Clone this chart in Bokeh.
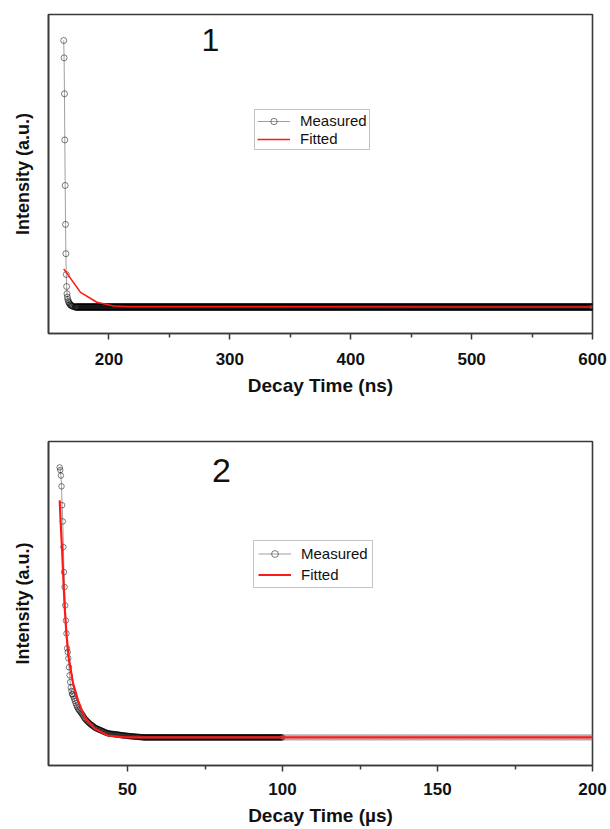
import numpy as np
from bokeh.plotting import figure
from bokeh.layouts import column
from bokeh.models import Range1d, FixedTicker, Label, Legend, LegendItem
from bokeh.embed import file_html
from bokeh.resources import INLINE

FONT = "Liberation Sans"

# ---------------- Panel 1 : decay time in ns ----------------
p1_dec_t = [162.6, 162.9, 163.2, 163.5, 163.8, 164.1, 164.4, 164.7, 165.0, 165.3,
            165.6, 166.0, 166.5, 167.0, 167.5, 168.0, 168.5, 169.0, 169.5, 170.0,
            171.0, 172.0]
p1_dec_y = [1.000, 0.935, 0.800, 0.627, 0.456, 0.310, 0.200, 0.122, 0.077, 0.050,
            0.037, 0.028, 0.021, 0.016, 0.012, 0.009, 0.007, 0.005, 0.004, 0.003,
            0.001, 0.000]
p1_tail_start, p1_tail_end, p1_tail_step = 172.5, 600.0, 0.5   # instrument time channels
p1_base = 0.0
p1_fit_t = [162.6, 176.5, 190.0, 204.0, 215.0, 600.0]
p1_fit_y = [0.143, 0.055, 0.018, 0.004, 0.001, 0.000]
p1_xticks = [200, 300, 400, 500, 600]
p1_xminor = [250, 350, 450, 550]

# ---------------- Panel 2 : decay time in µs ----------------
p2_dec_t = [28.1, 28.3, 28.5, 28.7, 28.9, 29.1, 29.3, 29.5, 29.7, 29.9,
            30.1, 30.3, 30.5, 30.7, 30.9, 31.1, 31.3, 31.5, 31.7, 31.9, 32.1]
p2_dec_y = [1.000, 0.990, 0.970, 0.930, 0.860, 0.800, 0.705, 0.612, 0.557, 0.489,
            0.433, 0.385, 0.330, 0.316, 0.293, 0.260, 0.230, 0.205, 0.185, 0.172, 0.160]
# slow part, channels 32.25 ... 55.0 µs every 0.25 µs
p2_slow_start, p2_slow_end, p2_slow_step = 32.25, 55.0, 0.25
p2_slow_y = [0.160, 0.152, 0.143, 0.135, 0.127, 0.119, 0.113, 0.107, 0.103, 0.099,
             0.095, 0.091, 0.087, 0.083, 0.078, 0.073, 0.069, 0.066, 0.063, 0.060,
             0.057, 0.054, 0.052, 0.049, 0.047, 0.045, 0.043, 0.041, 0.038, 0.036,
             0.035, 0.033, 0.032, 0.031, 0.029, 0.028, 0.027, 0.026, 0.024, 0.023,
             0.022, 0.021, 0.019, 0.018, 0.017, 0.016, 0.015, 0.015, 0.014, 0.014,
             0.013, 0.013, 0.013, 0.012, 0.012, 0.012, 0.011, 0.011, 0.011, 0.010,
             0.010, 0.009, 0.009, 0.008, 0.008, 0.008, 0.007, 0.007, 0.007, 0.006,
             0.006, 0.006, 0.005, 0.005, 0.005, 0.004, 0.004, 0.004, 0.004, 0.003,
             0.003, 0.003, 0.003, 0.002, 0.002, 0.002, 0.002, 0.001, 0.001, 0.001,
             0.001, 0.000]
p2_tail_start, p2_tail_end, p2_tail_step = 55.2, 100.0, 0.2
p2_far_start, p2_far_end, p2_far_step = 100.4, 200.0, 0.4
p2_base = 0.0
p2_fit_t = [28.12, 28.44, 28.89, 29.31, 29.72, 30.27, 31.01, 32.42, 34.02, 36.13,
            39.34, 43.63, 48.96, 200.0]
p2_fit_y = [0.878, 0.793, 0.693, 0.581, 0.482, 0.385, 0.297, 0.200, 0.137, 0.075,
            0.033, 0.007, 0.000, 0.000]
p2_xticks = [50, 100, 150, 200]
p2_xminor = [75, 125, 175]


def channels(start, end, step):
    return np.arange(start, end + step / 2, step)


def style_axes(p, xticks, xminor, xlabel, tick_standoff, label_standoff):
    p.outline_line_color = "#3a3a3a"
    p.outline_line_width = 1.6
    p.xgrid.visible = False
    p.ygrid.visible = False
    xa = p.xaxis[0]
    xa.ticker = FixedTicker(ticks=xticks, minor_ticks=xminor)
    xa.axis_line_color = "#3a3a3a"
    xa.axis_line_width = 1.6
    xa.major_tick_line_color = "#3a3a3a"
    xa.major_tick_line_width = 1.5
    xa.minor_tick_line_color = "#3a3a3a"
    xa.minor_tick_line_width = 1.5
    xa.major_tick_in = 0
    xa.major_tick_out = 6
    xa.minor_tick_in = 0
    xa.minor_tick_out = 4
    xa.major_label_text_font = FONT
    xa.major_label_text_font_style = "bold"
    xa.major_label_text_font_size = "17px"
    xa.major_label_text_color = "#111111"
    xa.major_label_standoff = tick_standoff
    xa.axis_label = xlabel
    xa.axis_label_text_font = FONT
    xa.axis_label_text_font_style = "bold"
    xa.axis_label_text_font_size = "19px"
    xa.axis_label_text_color = "#111111"
    xa.axis_label_standoff = label_standoff
    ya = p.yaxis[0]
    ya.ticker = FixedTicker(ticks=[])
    ya.axis_line_color = "#3a3a3a"
    ya.axis_line_width = 1.6
    ya.major_tick_out = 0
    ya.major_tick_in = 0
    ya.minor_tick_out = 0
    ya.minor_tick_in = 0
    ya.axis_label = "Intensity (a.u.)"
    ya.axis_label_text_font = FONT
    ya.axis_label_text_font_style = "bold"
    ya.axis_label_text_font_size = "18px"
    ya.axis_label_text_color = "#111111"
    ya.axis_label_standoff = 16


def make_legend(p, meas_renderers, fit_renderer, loc, font_size, padding, spacing, item_h):
    leg = Legend(items=[LegendItem(label="Measured", renderers=meas_renderers),
                        LegendItem(label="Fitted", renderers=[fit_renderer])],
                 location=loc)
    leg.margin = 0
    leg.padding = padding
    leg.spacing = spacing
    leg.glyph_width = 33
    leg.glyph_height = item_h
    leg.label_height = item_h
    leg.label_standoff = 10
    leg.label_text_font = FONT
    leg.label_text_font_size = font_size
    leg.label_text_color = "#111111"
    leg.border_line_color = "#8a8a8a"
    leg.border_line_width = 1
    leg.background_fill_color = "white"
    leg.background_fill_alpha = 1
    p.add_layout(leg)


# ---------------- Figure 1 ----------------
p1 = figure(width=608, height=409, output_backend="svg", toolbar_location=None,
            x_range=Range1d(150, 600), y_range=Range1d(-0.0994, 1.0976),
            min_border_left=48, min_border_right=16, min_border_top=14, min_border_bottom=76,
            background_fill_color="white", border_fill_color="white")
style_axes(p1, p1_xticks, p1_xminor, "Decay Time (ns)", 13, 7)

t1_tail = channels(p1_tail_start, p1_tail_end, p1_tail_step)
y1_tail = np.full(len(t1_tail), p1_base)
t1_all = np.concatenate([p1_dec_t, t1_tail])
y1_all = np.concatenate([p1_dec_y, y1_tail])

l1 = p1.line(t1_all, y1_all, line_color="#a0a0a0", line_width=1)
c1 = p1.scatter(p1_dec_t, p1_dec_y, marker="circle", size=6, fill_alpha=0,
                line_color="black", line_alpha=0.5, line_width=1)
p1.scatter(t1_tail, y1_tail, marker="circle", size=6.5, fill_alpha=0,
           line_color="black", line_alpha=0.55, line_width=1)
f1 = p1.line(p1_fit_t, p1_fit_y, line_color="#ff1a1a", line_width=1.6)
make_legend(p1, [l1, c1], f1, (206, 183), "15px", 2, 1, 16)
p1.add_layout(Label(x=284, y=1.045, text="1", text_font=FONT, text_font_size="32px",
                    text_align="center", text_baseline="top", text_color="#111111"))

# ---------------- Figure 2 ----------------
p2 = figure(width=608, height=419, output_backend="svg", toolbar_location=None,
            x_range=Range1d(24.5, 200), y_range=Range1d(-0.104, 1.096),
            min_border_left=47, min_border_right=13, min_border_top=32, min_border_bottom=63,
            background_fill_color="white", border_fill_color="white")
style_axes(p2, p2_xticks, p2_xminor, "Decay Time (µs)", 11, 7)

t2_slow = channels(p2_slow_start, p2_slow_end, p2_slow_step)
assert len(t2_slow) == len(p2_slow_y)
t2_tail = channels(p2_tail_start, p2_tail_end, p2_tail_step)
y2_tail = np.full(len(t2_tail), p2_base)
t2_far = channels(p2_far_start, p2_far_end, p2_far_step)
y2_far = np.full(len(t2_far), p2_base)
t2_all = np.concatenate([p2_dec_t, t2_slow, t2_tail, t2_far])
y2_all = np.concatenate([p2_dec_y, p2_slow_y, y2_tail, y2_far])

l2 = p2.line(t2_all, y2_all, line_color="#a0a0a0", line_width=1)
c2 = p2.scatter(p2_dec_t, p2_dec_y, marker="circle", size=5.5, fill_alpha=0,
                line_color="black", line_alpha=0.5, line_width=1)
p2.scatter(t2_slow, p2_slow_y, marker="circle", size=5.5, fill_alpha=0,
           line_color="black", line_alpha=0.5, line_width=1)
p2.scatter(t2_tail, y2_tail, marker="circle", size=5.5, fill_alpha=0,
           line_color="black", line_alpha=0.5, line_width=1)
p2.scatter(t2_far, y2_far, marker="circle", size=5.5, fill_alpha=0,
           line_color="#888888", line_alpha=0.35, line_width=1)
f2 = p2.line(p2_fit_t, p2_fit_y, line_color="#ff1a1a", line_width=2.2)
make_legend(p2, [l2, c2], f2, (205, 177), "15px", 4, 4, 17)
p2.add_layout(Label(x=80.3, y=1.033, text="2", text_font=FONT, text_font_size="34px",
                    text_align="center", text_baseline="top", text_color="#111111"))

layout = column(p1, p2, spacing=0)
open("out.html", "w").write(file_html(layout, INLINE))
